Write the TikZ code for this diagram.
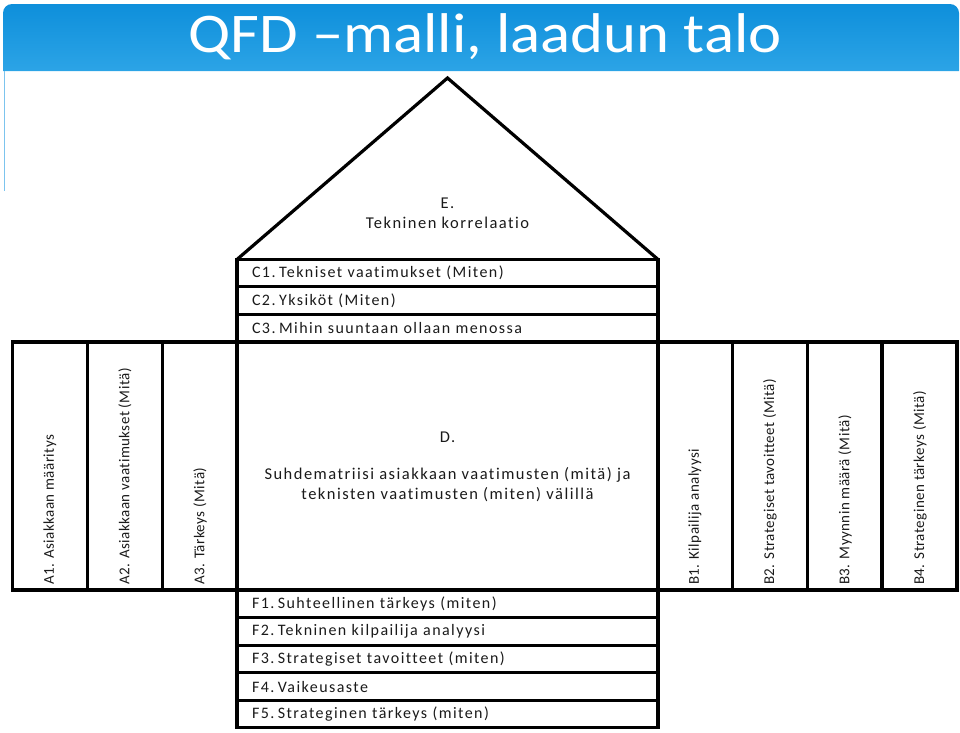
\documentclass[tikz,border=0pt]{standalone}
\usepackage{fontspec}
\setmainfont{Carlito}
\newfontfamily\lblfont[LetterSpace=9, Ligatures=NoCommon]{Carlito}
\newfontfamily\vfont[LetterSpace=3, Ligatures=NoCommon]{Carlito}
\definecolor{bartop}{HTML}{0E8FDB}
\definecolor{barbot}{HTML}{2CA4E6}
\definecolor{barline}{HTML}{7CC4EE}
\definecolor{ink}{HTML}{1A1A1A}
\newcommand{\numgap}{\kern3.5pt}
\tikzset{
  frame/.style={draw=black, line width=3.2pt},
  rowcell/.style={frame, minimum width=421pt, minimum height=27.5pt, inner xsep=15pt, inner ysep=0pt, text width=391pt, align=left, font=\lblfont\fontsize{16}{18}\selectfont, text=ink},
  colcell/.style={frame, minimum width=75pt, minimum height=248pt, inner sep=0pt},
  vlabel/.style={rotate=90, anchor=west, font=\vfont\fontsize{15}{17}\selectfont, text=ink, inner sep=0pt},
  ctext/.style={align=center, font=\lblfont\fontsize{16.5}{20}\selectfont, text=ink}
}
\begin{document}
\begin{tikzpicture}[x=1pt,y=-1pt]
\useasboundingbox (0,0) rectangle (960,732);
% title bar
\shade[top color=bartop, bottom color=barbot] (3,71) {[rounded corners=9pt] -- (3,4) -- (959,4)} -- (959,71) -- cycle;
\draw[barline, line width=1.6pt] (4.5,71) -- (4.5,191);
\node[font=\fontsize{56}{56}\selectfont, text=white, anchor=base, inner sep=0pt] (title) at (485,52) {\scalebox{1.12}[1]{QFD –malli, laadun talo}};
% roof
\coordinate (apex) at (447.5,78);
\coordinate (eaveL) at (237.5,259);
\coordinate (eaveR) at (657.5,259);
\draw[frame, line join=miter] (eaveL) -- (apex) -- (eaveR);
\node[ctext] (e) at (447.5,213) {E.\\Tekninen korrelaatio};
% C rows
\node[rowcell] (c1) at (447.5,273) {C1.\numgap Tekniset vaatimukset (Miten)};
\node[rowcell] (c2) at (447.5,300.5) {C2.\numgap Yksiköt (Miten)};
\node[rowcell] (c3) at (447.5,328) {C3.\numgap Mihin suuntaan ollaan menossa};
% D
\node[frame, minimum width=421pt, minimum height=248pt] (d) at (447.5,466) {};
\node[ctext] (dlab) at (447.5,437) {D.};
\node[ctext] (dtext) at (447.5,485) {Suhdematriisi asiakkaan vaatimusten (mitä) ja\\teknisten vaatimusten (miten) välillä};
% A columns
\node[colcell] (a1) at (50,466) {};
\node[colcell] (a2) at (125,466) {};
\node[colcell] (a3) at (200,466) {};
\node[vlabel] (a1t) at (50,585) {A1. Asiakkaan määritys};
\node[vlabel] (a2t) at (125,585) {A2. Asiakkaan vaatimukset (Mitä)};
\node[vlabel] (a3t) at (200,585) {A3. Tärkeys (Mitä)};
% B columns
\node[colcell] (b1) at (695,466) {};
\node[colcell] (b2) at (770,466) {};
\node[colcell] (b3) at (845,466) {};
\node[colcell] (b4) at (919.5,466) {};
\node[vlabel] (b1t) at (695,585) {B1. Kilpailija analyysi};
\node[vlabel] (b2t) at (770,585) {B2. Strategiset tavoitteet (Mitä)};
\node[vlabel] (b3t) at (845,585) {B3. Myynnin määrä (Mitä)};
\node[vlabel] (b4t) at (920,585) {B4. Strateginen tärkeys (Mitä)};
% F rows
\node[rowcell] (f1) at (447.5,604) {F1.\numgap Suhteellinen tärkeys (miten)};
\node[rowcell] (f2) at (447.5,631.5) {F2.\numgap Tekninen kilpailija analyysi};
\node[rowcell] (f3) at (447.5,659) {F3.\numgap Strategiset tavoitteet (miten)};
\node[rowcell] (f4) at (447.5,686.5) {F4.\numgap Vaikeusaste};
\node[rowcell] (f5) at (447.5,714) {F5.\numgap Strateginen tärkeys (miten)};
\end{tikzpicture}
\end{document}
